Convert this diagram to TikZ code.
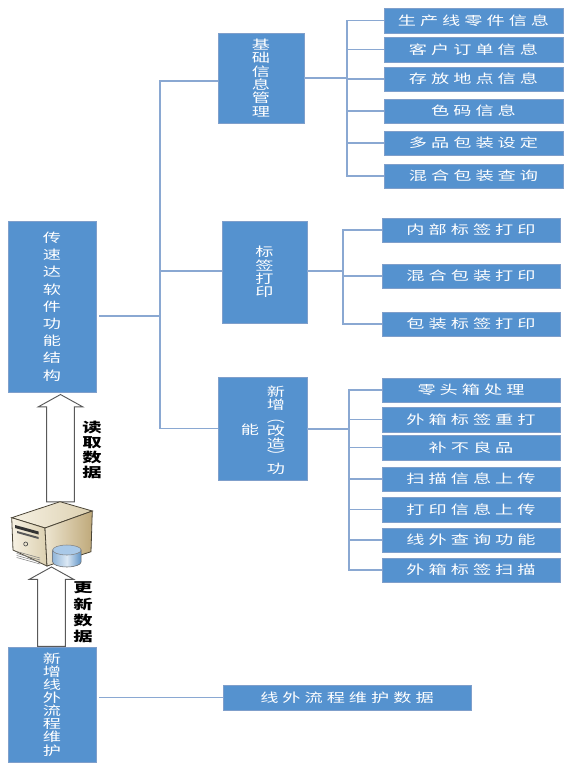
\documentclass[tikz,border=0pt]{standalone}
\usepackage{fontspec}
\usepackage{xcolor}
\usetikzlibrary{shapes.arrows}
\newfontfamily\cjkfont[FakeStretch=1.45]{Noto Sans CJK SC}
\newfontfamily\leaffont[FakeStretch=1.45,LetterSpace=32]{Noto Sans CJK SC}
\newcommand{\colfont}[1]{\cjkfont\fontsize{9.4}{#1}\selectfont\lineskiplimit=-20pt\relax}
\newcommand{\lblfont}[1]{\cjkfont\bfseries\fontsize{10}{#1}\selectfont\lineskiplimit=-20pt\relax}
\definecolor{boxc}{HTML}{5592CF}
\definecolor{edgec}{HTML}{7F9FCB}
\definecolor{linec}{HTML}{8AA8D2}
\definecolor{arrc}{HTML}{595959}
\definecolor{outlinec}{HTML}{4A4436}
\definecolor{creama}{HTML}{F6F1E3}
\definecolor{creamb}{HTML}{DCD0B0}
\definecolor{tana}{HTML}{EDE5D0}
\definecolor{tanb}{HTML}{BFA97A}
\definecolor{dba}{HTML}{DCE9F5}
\definecolor{dbb}{HTML}{5F93C6}
\definecolor{dbc}{HTML}{A9C9E8}

\begin{document}
\begin{tikzpicture}[
  x=0.75pt, y=-0.75pt,
  vbox/.style={draw=edgec, line width=0.3pt, fill=boxc, text=white, align=center, inner sep=0pt,
               font=\colfont{10}},
  leaf/.style={draw=edgec, line width=0.3pt, fill=boxc, text=white, inner sep=0pt,
               minimum width=133.5pt, minimum height=18.4pt,
               font=\leaffont\fontsize{9.4}{12}\selectfont},
  conn/.style={draw=linec, line width=0.8pt},
  hollow/.style={single arrow, draw=arrc, fill=white, line width=0.7pt, shape border rotate=90,
                 inner sep=10pt, minimum width=33pt, single arrow head extend=6.4pt,
                 single arrow tip angle=122, single arrow head indent=0pt},
  datalbl/.style={align=center, inner sep=0pt}]
\useasboundingbox (0,0) rectangle (567,767);
% left column
\node[vbox, minimum width=66pt, minimum height=128.25pt, font=\colfont{12.9}] (root) at (52,306.5)
     {传\\速\\达\\软\\件\\功\\能\\结\\构};
\node[vbox, minimum width=66pt, minimum height=86.25pt, font=\colfont{9.8}] (addflow) at (52,704.5)
     {新\\增\\线\\外\\流\\程\\维\\护};
\node[leaf, minimum width=186pt, minimum height=18.75pt] (flowdata) at (347,697.5) {线外流程维护数据};
% middle column
\node[vbox, minimum width=64.5pt, minimum height=67.5pt] (base) at (261,78)
     {基\\础\\信\\息\\管\\理};
\node[vbox, minimum width=63.75pt, minimum height=76.5pt] (print) at (264.5,272)
     {标\\签\\打\\印};
\node[vbox, minimum width=66.75pt, minimum height=77.25pt] (newfunc) at (262.5,428.5) {};
\node[text=white, align=center, inner sep=0pt, font=\colfont{9.6}] (newcol) at (276,430.5)
     {新\\增\\︵\\改\\造\\︶\\功};
\node[text=white, inner sep=0pt, font=\colfont{12}] (newleft) at (250,430) {能};
% leaves of base
\node[leaf, minimum width=134.25pt] (part) at (473.5,20.5) {生产线零件信息};
\node[leaf, minimum width=134.25pt] (order) at (473.5,49.5) {客户订单信息};
\node[leaf, minimum width=134.25pt] (store) at (473.5,79) {存放地点信息};
\node[leaf, minimum width=134.25pt] (color) at (473.5,111) {色码信息};
\node[leaf, minimum width=134.25pt] (multi) at (473.5,143) {多品包装设定};
\node[leaf, minimum width=134.25pt] (mixq) at (473.5,176) {混合包装查询};
% leaves of print
\node[leaf] (inner) at (471,230) {内部标签打印};
\node[leaf] (mixp) at (471,276) {混合包装打印};
\node[leaf] (pack) at (471,324) {包装标签打印};
% leaves of new
\node[leaf] (tail) at (471,390) {零头箱处理};
\node[leaf] (reprint) at (471,419.5) {外箱标签重打};
\node[leaf] (defect) at (471,447.5) {补不良品};
\node[leaf] (scanup) at (471,479) {扫描信息上传};
\node[leaf] (printup) at (471,509.5) {打印信息上传};
\node[leaf] (offline) at (471,540) {线外查询功能};
\node[leaf] (scanbox) at (471,570) {外箱标签扫描};
% connectors
\coordinate (rootbus) at (160,316);
\coordinate (basein) at (218,81);
\coordinate (basebus) at (347,78);
\coordinate (printbus) at (343,271);
\coordinate (newbus) at (349,429);
\coordinate (rootout) at (99,316);
\coordinate (flowout) at (99,697.5);
\draw[conn] (rootout) -- (rootbus);
\draw[conn] (rootbus) |- (basein);
\draw[conn] (rootbus) |- (print.west |- printbus);
\draw[conn] (rootbus) |- (newfunc.west);
\draw[conn] (flowout) -- (flowdata.west);
\draw[conn] (base.east) -- (basebus);
\draw[conn] (print.east |- printbus) -- (printbus);
\draw[conn] (newfunc.east |- newbus) -- (newbus);
\draw[conn] (basebus) |- (part.west);
\draw[conn] (basebus) |- (order.west);
\draw[conn] (basebus) |- (store.west);
\draw[conn] (basebus) |- (color.west);
\draw[conn] (basebus) |- (multi.west);
\draw[conn] (basebus) |- (mixq.west);
\draw[conn] (printbus) |- (inner.west);
\draw[conn] (printbus) |- (mixp.west);
\draw[conn] (printbus) |- (pack.west);
\draw[conn] (newbus) |- (tail.west);
\draw[conn] (newbus) |- (reprint.west);
\draw[conn] (newbus) |- (defect.west);
\draw[conn] (newbus) |- (scanup.west);
\draw[conn] (newbus) |- (printup.west);
\draw[conn] (newbus) |- (offline.west);
\draw[conn] (newbus) |- (scanbox.west);
% data arrows
\node[hollow, minimum height=80.5pt] (readarr) at (60.5,452) {};
\node[hollow, minimum height=59.5pt] (updarr) at (51.5,610.5) {};
\node[datalbl, font=\lblfont{11.25}] (readlbl) at (92,450) {读\\取\\数\\据};
\node[datalbl, font=\lblfont{12.2}] (updlbl) at (83,612.5) {更\\新\\数\\据};
% server
\path[left color=creama, right color=creamb, draw=outlinec, line width=0.6pt] (11.7,517.7) -- (60,501.7) -- (92.3,511) -- (45,528) -- cycle;
\path[left color=creama, right color=creamb, draw=outlinec, line width=0.6pt] (11.7,517.7) -- (45,528) -- (47,566) -- (13,550) -- cycle;
\path[left color=tana, right color=tanb, draw=outlinec, line width=0.6pt] (45,528) -- (92.3,511) -- (91,551.7) -- (47,566) -- cycle;
\fill[black!80] (15,525) -- (38.5,531.5) -- (38.5,534.5) -- (15,528) -- cycle;
\fill[black!65] (17,531) -- (38.5,537) -- (38.5,539) -- (17,533) -- cycle;
\draw[black!70, line width=0.5pt] (25.7,544) circle (2);
\foreach \k in {0,1,2,3}
  \draw[black!50, line width=0.4pt] (16.7,551.5+\k*2) -- (40,558+\k*2);
\path[left color=dbb!60!dba, right color=dbb, middle color=dba, draw=black!60, line width=0.4pt]
  (52.7,550) -- (52.7,562) arc[start angle=180, end angle=0, x radius=14.2, y radius=5] -- (81.1,550) -- cycle;
\path[fill=dbc, draw=black!50, line width=0.4pt] (66.9,550) ellipse[x radius=14.2, y radius=5];
\end{tikzpicture}
\end{document}
